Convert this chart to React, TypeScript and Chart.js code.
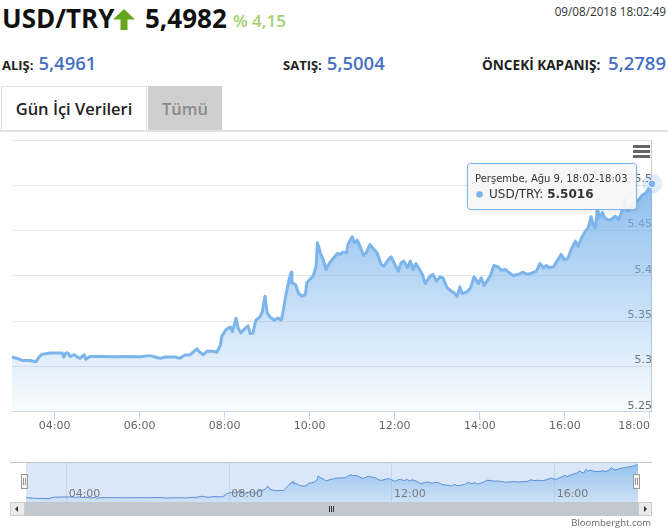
import React, { useEffect, useRef } from 'react';
import { Chart, registerables } from 'chart.js';

Chart.register(...registerables);

// ---------- data ----------
const SERIES_NAME = 'USD/TRY';
const TIMES: string[] = [
  '03:00', '03:11', '03:14', '03:25', '03:34', '03:38', '03:42', '03:54', '04:11', '04:13',
  '04:16', '04:19', '04:22', '04:28', '04:33', '04:36', '04:42', '04:44', '04:50', '05:04',
  '05:25', '05:40', '06:01', '06:15', '06:22', '06:29', '06:36', '06:50', '06:57', '07:04',
  '07:11', '07:17', '07:21', '07:25', '07:30', '07:35', '07:45', '07:49', '07:54', '07:56',
  '08:02', '08:08', '08:11', '08:16', '08:19', '08:23', '08:28', '08:33', '08:36', '08:40',
  '08:44', '08:50', '08:53', '08:57', '09:00', '09:04', '09:10', '09:15', '09:20', '09:23',
  '09:27', '09:31', '09:34', '09:35', '09:40', '09:44', '09:49', '09:54', '09:56', '10:01',
  '10:05', '10:09', '10:11', '10:15', '10:19', '10:23', '10:28', '10:33', '10:39', '10:43',
  '10:47', '10:52', '10:54', '11:00', '11:03', '11:07', '11:11', '11:16', '11:20', '11:25',
  '11:30', '11:35', '11:41', '11:45', '11:51', '11:55', '11:59', '12:05', '12:09', '12:13',
  '12:18', '12:22', '12:26', '12:30', '12:35', '12:39', '12:43', '12:50', '12:54', '12:59',
  '13:04', '13:08', '13:14', '13:20', '13:24', '13:28', '13:32', '13:35', '13:41', '13:47',
  '13:52', '13:58', '14:02', '14:06', '14:11', '14:15', '14:20', '14:26', '14:30', '14:36',
  '14:42', '14:47', '14:54', '15:01', '15:07', '15:14', '15:20', '15:25', '15:30', '15:34',
  '15:38', '15:44', '15:49', '15:55', '15:59', '16:04', '16:09', '16:15', '16:19', '16:23',
  '16:29', '16:33', '16:37', '16:40', '16:43', '16:46', '16:49', '16:53', '16:57', '17:03',
  '17:07', '17:11', '17:16', '17:20', '17:24', '17:28', '17:32', '17:38', '17:44', '17:49',
  '17:55', '17:59', '18:03',
];
const VALUES: number[] = [
  5.3105, 5.3080, 5.3067, 5.3067, 5.3053, 5.3105, 5.3134, 5.3150, 5.3150, 5.3105,
  5.3150, 5.3150, 5.3110, 5.3130, 5.3100, 5.3090, 5.3130, 5.3080, 5.3110, 5.3110,
  5.3108, 5.3110, 5.3108, 5.3120, 5.3105, 5.3090, 5.3105, 5.3105, 5.3090, 5.3127,
  5.3127, 5.3170, 5.3194, 5.3156, 5.3130, 5.3167, 5.3167, 5.3156, 5.3237, 5.3333,
  5.3407, 5.3437, 5.3385, 5.3532, 5.3425, 5.3370, 5.3414, 5.3450, 5.3363, 5.3370,
  5.3510, 5.3547, 5.3600, 5.3775, 5.3592, 5.3547, 5.3510, 5.3536, 5.3510, 5.3628,
  5.3813, 5.3960, 5.4040, 5.3924, 5.3905, 5.3813, 5.3775, 5.3794, 5.3924, 5.3968,
  5.3997, 5.4108, 5.4366, 5.4256, 5.4181, 5.4071, 5.4145, 5.4189, 5.4248, 5.4237,
  5.4262, 5.4256, 5.4347, 5.4432, 5.4366, 5.4395, 5.4328, 5.4226, 5.4256, 5.4347,
  5.4300, 5.4256, 5.4126, 5.4108, 5.4181, 5.4211, 5.4145, 5.4052, 5.4145, 5.4163,
  5.4090, 5.4163, 5.4071, 5.4137, 5.4071, 5.4015, 5.3916, 5.3997, 5.4015, 5.3941,
  5.3990, 5.3979, 5.3868, 5.3831, 5.3813, 5.3775, 5.3879, 5.3805, 5.3820, 5.3868,
  5.3990, 5.3916, 5.3979, 5.3894, 5.3953, 5.4004, 5.4115, 5.4100, 5.4063, 5.4071,
  5.4034, 5.4004, 5.4015, 5.4041, 5.4015, 5.4034, 5.4052, 5.4137, 5.4090, 5.4115,
  5.4090, 5.4100, 5.4163, 5.4237, 5.4181, 5.4189, 5.4292, 5.4384, 5.4328, 5.4410,
  5.4494, 5.4531, 5.4653, 5.4568, 5.4531, 5.4735, 5.4643, 5.4699, 5.4632, 5.4617,
  5.4632, 5.4661, 5.4625, 5.4699, 5.4845, 5.4716, 5.4735, 5.4808, 5.4837, 5.4890,
  5.4919, 5.4974, 5.5016,
];
const X_START = '03:00';
const X_TICKS = ['04:00', '06:00', '08:00', '10:00', '12:00', '14:00', '16:00', '18:00'];
const NAV_TICKS = ['04:00', '08:00', '12:00', '16:00'];
const Y_TICKS = [5.25, 5.3, 5.35, 5.4, 5.45, 5.5, 5.55];
const NAV_Y_MIN = 5.286;
const NAV_Y_MAX = 5.511;
const TOOLTIP_DAY = 'Perşembe, Ağu 9';

// header texts
const SYMBOL = 'USD/TRY';
const PRICE = '5,4982';
const CHANGE = '% 4,15';
const STAMP = '09/08/2018 18:02:49';
const QUOTE_LABELS = ['ALIŞ:', 'SATIŞ:', 'ÖNCEKİ KAPANIŞ:'];
const QUOTE_VALUES = ['5,4961', '5,5004', '5,2789'];
const TABS = ['Gün İçi Verileri', 'Tümü'];
const CREDIT = 'Bloomberght.com';

// ---------- helpers ----------
const toMin = (t: string) => {
  const [h, m] = t.split(':').map(Number);
  return h * 60 + m;
};
const fmt = (m: number) =>
  `${String(Math.floor(m / 60)).padStart(2, '0')}:${String(Math.round(m) % 60).padStart(2, '0')}`;

const LINE = '#7cb5ec';
const CHART_FONT = '"DejaVu Sans", sans-serif';
const UI_FONT = '"Open Sans", sans-serif';

const hoverPlugin = {
  id: 'hoverDecor',
  beforeDatasetsDraw(chart: any) {
    const meta = chart.getDatasetMeta(0);
    const pt = meta.data[meta.data.length - 1];
    const { ctx, chartArea } = chart;
    ctx.save();
    ctx.strokeStyle = '#cccccc';
    ctx.lineWidth = 1;
    const x = Math.round(pt.x) - 0.5;
    ctx.beginPath();
    ctx.moveTo(x, chartArea.top);
    ctx.lineTo(x, chartArea.bottom);
    ctx.stroke();
    ctx.restore();
  },
  afterDatasetsDraw(chart: any) {
    const meta = chart.getDatasetMeta(0);
    const pt = meta.data[meta.data.length - 1];
    const { ctx } = chart;
    ctx.save();
    ctx.fillStyle = 'rgba(124,181,236,0.25)';
    ctx.beginPath();
    ctx.arc(pt.x, pt.y, 10, 0, Math.PI * 2);
    ctx.fill();
    ctx.restore();
    pt.draw(ctx, { left: -1e4, top: -1e4, right: 1e4, bottom: 1e4 });
  },
  afterDraw(chart: any) {
    const meta = chart.getDatasetMeta(0);
    const n = meta.data.length - 1;
    const pt = meta.data[n];
    const lastMin = toMin(TIMES[n]);
    const title = `${TOOLTIP_DAY}, ${fmt(lastMin - 1)}-${fmt(lastMin)}`;
    const valueStr = VALUES[n].toFixed(4);
    const label = `${SERIES_NAME}: `;
    const { ctx } = chart;
    ctx.save();
    const titleFont = `10px ${CHART_FONT}`;
    const bodyFont = `12px ${CHART_FONT}`;
    const boldFont = `bold 12px ${CHART_FONT}`;
    ctx.font = titleFont;
    const tw = ctx.measureText(title).width;
    ctx.font = bodyFont;
    const lw = ctx.measureText(label).width;
    ctx.font = boldFont;
    const vw = ctx.measureText(valueStr).width;
    const contentW = Math.max(tw, 14 + lw + vw);
    const w = Math.round(contentW + 16);
    const h = 46;
    const right = Math.round(pt.x - 16);
    const left = right - w + 0.5;
    const top = Math.round(pt.y - 21) + 0.5;
    const r = 3;
    const path = () => {
      ctx.beginPath();
      ctx.moveTo(left + r, top);
      ctx.lineTo(left + w - r, top);
      ctx.arcTo(left + w, top, left + w, top + r, r);
      ctx.lineTo(left + w, top + h - r);
      ctx.arcTo(left + w, top + h, left + w - r, top + h, r);
      ctx.lineTo(left + r, top + h);
      ctx.arcTo(left, top + h, left, top + h - r, r);
      ctx.lineTo(left, top + r);
      ctx.arcTo(left, top, left + r, top, r);
      ctx.closePath();
    };
    ctx.shadowColor = 'rgba(0,0,0,0.15)';
    ctx.shadowBlur = 4;
    ctx.shadowOffsetX = 1;
    ctx.shadowOffsetY = 1;
    path();
    ctx.fillStyle = 'rgba(249,249,249,0.92)';
    ctx.fill();
    ctx.shadowColor = 'rgba(0,0,0,0)';
    ctx.strokeStyle = LINE;
    ctx.lineWidth = 1;
    path();
    ctx.stroke();

    ctx.textBaseline = 'middle';
    ctx.textAlign = 'left';
    ctx.fillStyle = '#333333';
    ctx.font = titleFont;
    ctx.fillText(title, left + 7.5, top + 15.5);
    ctx.fillStyle = LINE;
    ctx.beginPath();
    ctx.arc(left + 12, top + 31, 3.3, 0, Math.PI * 2);
    ctx.fill();
    ctx.fillStyle = '#333333';
    ctx.font = bodyFont;
    ctx.fillText(label, left + 21.5, top + 31);
    ctx.font = boldFont;
    ctx.fillText(valueStr, left + 21.5 + lw, top + 31);
    ctx.restore();
  },
};

const navBgPlugin = {
  id: 'navBg',
  beforeDraw(chart: any) {
    const { ctx, chartArea } = chart;
    ctx.save();
    ctx.fillStyle = '#dae7f8';
    ctx.fillRect(chartArea.left, chartArea.top, chartArea.right - chartArea.left, chartArea.bottom - chartArea.top);
    ctx.restore();
  },
};

function Txt(props: {
  x?: number; right?: number; base: number; size: number; weight: number; color: string; children: any;
}) {
  const { x, right, base, size, weight, color, children } = props;
  const style: any = {
    position: 'absolute',
    top: base - 0.888 * size,
    fontFamily: UI_FONT,
    fontSize: size,
    lineHeight: `${size}px`,
    fontWeight: weight,
    color,
    whiteSpace: 'nowrap',
  };
  if (right !== undefined) style.right = right;
  else style.left = x;
  return <div style={style}>{children}</div>;
}

function Quote(props: { label: string; value: string; left: number; right?: number; labelSize?: number }) {
  const style: any = {
    position: 'absolute',
    top: 50,
    height: 26,
    left: props.left,
    display: 'flex',
    alignItems: 'baseline',
    justifyContent: 'space-between',
    gap: 5,
    fontFamily: UI_FONT,
    whiteSpace: 'nowrap',
  };
  if (props.right !== undefined) style.right = props.right;
  return (
    <div style={style}>
      <span style={{ fontSize: props.labelSize || 13, fontWeight: 700, color: '#222' }}>{props.label}</span>
      <span style={{ fontSize: 18.5, fontWeight: 600, color: '#4570c4' }}>{props.value}</span>
    </div>
  );
}

export default function App() {
  const mainRef = useRef<HTMLCanvasElement>(null);
  const navRef = useRef<HTMLCanvasElement>(null);

  useEffect(() => {
    const pts = TIMES.map((t, i) => ({ x: toMin(t), y: VALUES[i] }));
    const last = pts.length - 1;
    const xMin = toMin(X_START);
    const xMax = pts[last].x;
    const maxVal = Math.max(...VALUES);

    const main = new Chart(mainRef.current!, {
      type: 'line',
      data: {
        datasets: [
          {
            label: SERIES_NAME,
            data: pts,
            borderColor: LINE,
            borderWidth: 3,
            borderJoinStyle: 'round',
            tension: 0,
            fill: 'start',
            clip: false as any,
            backgroundColor: (c: any) => {
              const { chart } = c;
              const area = chart.chartArea;
              if (!area) return 'rgba(124,181,236,0.4)';
              const topY = chart.scales.y.getPixelForValue(maxVal);
              const g = chart.ctx.createLinearGradient(0, topY, 0, area.bottom);
              g.addColorStop(0, 'rgba(124,181,236,0.88)');
              g.addColorStop(1, 'rgba(124,181,236,0.04)');
              return g;
            },
            pointRadius: (c: any) => (c.dataIndex === last ? 4 : 0),
            pointBackgroundColor: LINE,
            pointBorderColor: '#ffffff',
            pointBorderWidth: 1,
          },
        ],
      },
      options: {
        responsive: false,
        animation: false,
        devicePixelRatio: 1,
        events: [],
        layout: { padding: { left: 12, right: 16, top: 8, bottom: 9 } },
        plugins: { legend: { display: false }, tooltip: { enabled: false } },
        scales: {
          x: {
            type: 'linear',
            min: xMin,
            max: xMax,
            // first (unlabelled) tick at the axis start so that 'inner' alignment only right-aligns 18:00
            afterBuildTicks: (s: any) => {
              s.ticks = [{ value: xMin }, ...X_TICKS.map((t) => ({ value: toMin(t) }))];
            },
            ticks: {
              autoSkip: false,
              maxRotation: 0,
              align: 'inner',
              color: '#666666',
              font: { family: CHART_FONT, size: 11 },
              padding: 0,
              callback: (v: any) => (Number(v) === xMin ? '' : fmt(Number(v))),
            },
            grid: {
              drawOnChartArea: false,
              drawTicks: true,
              tickLength: 8,
              color: (c: any) => (c.tick && c.tick.value === xMin ? 'rgba(0,0,0,0)' : '#ccd6eb'),
            },
            border: { color: '#ccd6eb', width: 1 },
          },
          y: {
            position: 'right',
            min: Y_TICKS[0],
            max: Y_TICKS[Y_TICKS.length - 1],
            afterBuildTicks: (s: any) => {
              s.ticks = Y_TICKS.map((v) => ({ value: v }));
            },
            ticks: {
              mirror: true,
              padding: 0,
              labelOffset: -6,
              color: '#666666',
              font: { family: CHART_FONT, size: 11 },
              callback: (v: any) =>
                Number(v) >= Y_TICKS[Y_TICKS.length - 1] - 1e-9 ? '' : String(Number(Number(v).toFixed(2))),
            },
            grid: {
              drawTicks: false,
              color: (c: any) => (c.tick && c.tick.value <= Y_TICKS[0] + 1e-9 ? 'rgba(0,0,0,0)' : '#e6e6e6'),
            },
            border: { display: false },
          },
        },
      },
      plugins: [hoverPlugin],
    } as any);

    const nav = new Chart(navRef.current!, {
      type: 'line',
      data: {
        datasets: [
          {
            data: pts,
            borderColor: '#5a90d6',
            borderWidth: 1,
            tension: 0,
            fill: 'start',
            pointRadius: 0,
            backgroundColor: (c: any) => {
              const area = c.chart.chartArea;
              if (!area) return 'rgba(124,181,236,0.4)';
              const g = c.chart.ctx.createLinearGradient(0, area.top, 0, area.bottom);
              g.addColorStop(0, 'rgba(124,181,236,0.75)');
              g.addColorStop(1, 'rgba(124,181,236,0.12)');
              return g;
            },
          },
        ],
      },
      options: {
        responsive: false,
        animation: false,
        devicePixelRatio: 1,
        events: [],
        layout: { padding: { left: 26, right: 30, top: 0, bottom: 0 } },
        plugins: { legend: { display: false }, tooltip: { enabled: false } },
        scales: {
          x: {
            type: 'linear',
            min: xMin,
            max: xMax,
            afterBuildTicks: (s: any) => {
              s.ticks = NAV_TICKS.map((t) => ({ value: toMin(t) }));
            },
            afterFit: (s: any) => {
              s.height = 0;
            },
            ticks: {
              autoSkip: false,
              maxRotation: 0,
              mirror: true,
              z: 1,
              align: 'start',
              padding: 1.5,
              labelOffset: 2,
              color: '#7a7a7a',
              font: { family: CHART_FONT, size: 11 },
              callback: (v: any) => fmt(Number(v)),
            },
            grid: { drawTicks: false, color: '#c6d6ec' },
            border: { display: false },
          },
          y: { display: false, min: NAV_Y_MIN, max: NAV_Y_MAX },
        },
      },
      plugins: [navBgPlugin],
    } as any);

    return () => {
      main.destroy();
      nav.destroy();
    };
  }, []);

  const abs = (s: any) => ({ position: 'absolute', ...s } as any);

  return (
    <div style={abs({ left: 0, top: 0, width: 668, height: 532, background: '#fff', overflow: 'hidden' })}>
      {/* header */}
      <Txt x={2} base={28.3} size={26} weight={700} color="#111">{SYMBOL}</Txt>
      <svg style={abs({ left: 113, top: 9 })} width={22} height={21}>
        <polygon points="11,0 22,10.5 14.5,10.5 14.5,21 7.5,21 7.5,10.5 0,10.5" fill="#66a61e" />
      </svg>
      <Txt x={145} base={28.3} size={26} weight={700} color="#111">{PRICE}</Txt>
      <Txt x={233} base={27.5} size={17} weight={600} color="#a3cf6c">{CHANGE}</Txt>
      <Txt right={2} base={16.5} size={11.7} weight={400} color="#333">{STAMP}</Txt>

      <Quote left={2} label={QUOTE_LABELS[0]} value={QUOTE_VALUES[0]} />
      <Quote left={283} label={QUOTE_LABELS[1]} value={QUOTE_VALUES[1]} />
      <Quote left={482} right={2} labelSize={13.6} label={QUOTE_LABELS[2]} value={QUOTE_VALUES[2]} />

      {/* tabs */}
      <div
        style={abs({
          left: 1, top: 86, width: 146, height: 44, boxSizing: 'border-box', background: '#fff',
          border: '1px solid #dddddd', borderBottom: 'none', display: 'flex', alignItems: 'center',
          justifyContent: 'center', fontFamily: UI_FONT, fontSize: 16.5, fontWeight: 600, color: '#222',
        })}
      >
        {TABS[0]}
      </div>
      <div
        style={abs({
          left: 148, top: 86, width: 74, height: 44, background: '#cfcfcf', display: 'flex',
          alignItems: 'center', justifyContent: 'center', fontFamily: UI_FONT, fontSize: 16.5,
          fontWeight: 600, color: '#8a8a8a',
        })}
      >
        {TABS[1]}
      </div>
      <div style={abs({ left: 0, top: 130, width: 668, height: 2, background: '#e2e2e2' })} />

      {/* main chart */}
      <canvas ref={mainRef} width={668} height={310} style={abs({ left: 0, top: 132, display: 'block' })} />
      {/* menu icon */}
      {[145, 150, 155].map((t) => (
        <div key={t} style={abs({ left: 633, top: t, width: 17, height: 3, background: '#666' })} />
      ))}

      {/* navigator */}
      <canvas ref={navRef} width={668} height={39} style={abs({ left: 0, top: 463, display: 'block' })} />
      <div style={abs({ left: 10, top: 462, width: 642, height: 1, background: '#c4c4c4' })} />
      {[21, 633].map((l) => (
        <div
          key={l}
          style={abs({
            left: l, top: 474, width: 7, height: 15, boxSizing: 'border-box', background: '#f2f2f2',
            border: '1px solid #999',
          })}
        >
          <div style={abs({ left: 1, top: 3, width: 1, height: 7, background: '#999' })} />
          <div style={abs({ left: 3, top: 3, width: 1, height: 7, background: '#999' })} />
        </div>
      ))}

      {/* scrollbar */}
      <div style={abs({ left: 25, top: 502, width: 613, height: 14, background: '#c1c8d0' })} />
      {[-2, 0, 2].map((d) => (
        <div key={d} style={abs({ left: 331 + d, top: 506, width: 1, height: 6, background: '#333' })} />
      ))}
      <div
        style={abs({
          left: 10, top: 502, width: 15, height: 14, boxSizing: 'border-box', background: '#ebebeb',
          border: '1px solid #cccccc',
        })}
      >
        <div
          style={abs({
            left: 4, top: 3, width: 0, height: 0, borderTop: '3px solid transparent',
            borderBottom: '3px solid transparent', borderRight: '3px solid #333',
          })}
        />
      </div>
      <div
        style={abs({
          left: 638, top: 502, width: 14, height: 14, boxSizing: 'border-box', background: '#ebebeb',
          border: '1px solid #cccccc',
        })}
      >
        <div
          style={abs({
            left: 5, top: 3, width: 0, height: 0, borderTop: '3px solid transparent',
            borderBottom: '3px solid transparent', borderLeft: '3px solid #333',
          })}
        />
      </div>
      <div
        style={abs({
          right: 17, top: 516, fontFamily: UI_FONT, fontSize: 9.5, lineHeight: '14px', color: '#666',
          whiteSpace: 'nowrap',
        })}
      >
        {CREDIT}
      </div>
    </div>
  );
}
